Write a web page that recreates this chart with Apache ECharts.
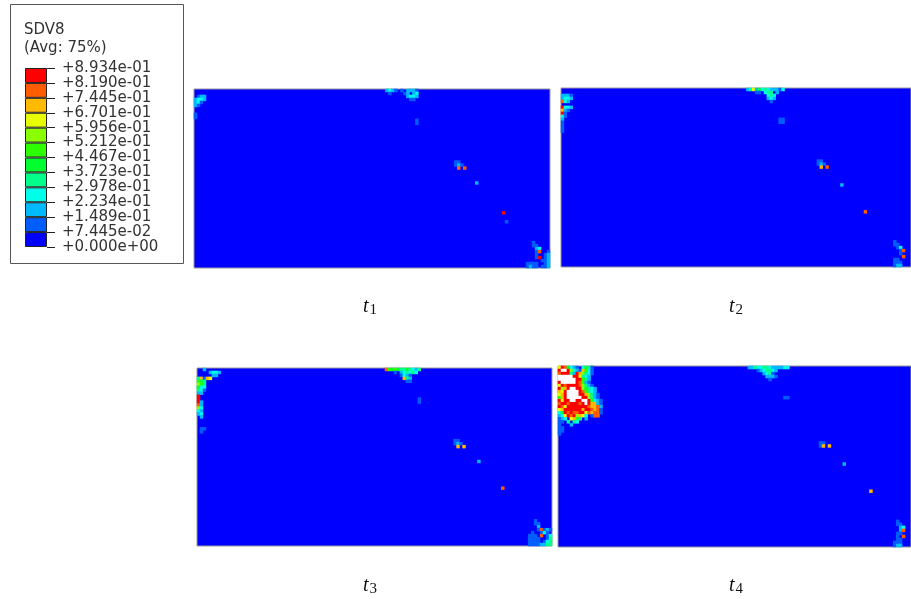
<!DOCTYPE html>
<html><head><meta charset="utf-8">
<style>html,body{margin:0;padding:0;background:#fff}#c{width:911px;height:599px}</style>
<script src="https://cdn.jsdelivr.net/npm/echarts@6/dist/echarts.min.js"></script>
</head><body><div id="c"></div>
<script>
// Legend
const legendTitle = 'SDV8';
const legendSubtitle = '(Avg: 75%)';
const tickLabels = ['+0.000e+00','+7.445e-02','+1.489e-01','+2.234e-01','+2.978e-01','+3.723e-01','+4.467e-01','+5.212e-01','+5.956e-01','+6.701e-01','+7.445e-01','+8.190e-01','+8.934e-01'];
const bandColors = ['#0000ff','#005dff','#00b9ff','#00ffe8','#00ff8b','#00ff2e','#2eff00','#8bff00','#e8ff00','#ffb900','#ff5d00','#ff0000'];
const levelChars = '123456789abc';   // one character per legend band, bottom to top; w = above range (white)
const panelNames = ['1','2','3','4'];

// Contour cells: [first column, first row, row strings]
const t1Cells = [
  [0,2,['.233','3443','342.','32..']],
  [0,8,['2','2']],
  [64,0,['3432','.2..']],
  [69,0,['2.3332','.23.34','..3443','...22.']],
  [74,10,['2','2']],
  [87,24,['22.','232']],
  [88,26,['b.b']],
  [94,31,['3']],
  [103,41,['c']],
  [104,44,['2']],
  [111,51,['..2.....','..22....','...34...','...2b..2','...2..23','...2c.23','.....223','2222..23','2322.223']]
];
const t2Cells = [
  [0,2,['3332','3443','b43.','.','c443','a32.','c2..','42..','3...','2...','2...','2...','2...']],
  [63,0,['3593645433324','...22.455.3']],
  [70,2,['454','343','.2']],
  [74,10,['22','22']],
  [87,24,['22.','232']],
  [88,26,['a.b']],
  [95,32,['3']],
  [103,41,['b']],
  [113,51,['2...','22..','.24.','..2b','..2.','...b','22..','222.','233.']]
];
const t3Cells = [
  [2,0,['3']],
  [4,1,['3443','.33.']],
  [0,3,['5a2a9','765','875','644','542','33.','c..','c..','c3.','b3.','84.','43','34','.3']],
  [1,20,['22','2']],
  [63,0,['b76765565435','...2.345454','.....2432','......a53','.......22']],
  [74,10,['2','2']],
  [86,24,['22.','232']],
  [87,26,['a.a']],
  [94,31,['3']],
  [102,40,['b']],
  [111,51,['..2.....','..22....','...3....','...2b232','.2..242.','222.b.24','2222..25','2222.245','22223355']]
];
const t4Cells = [
  [0,0,['9cb6432.4652','cwwc8432a742','bccc53ca8542','wwwwwcc9543','wwwwwwcc753','cwwwwwcb732','9cbccccb8532','c8acwwcc86543','a9cwwwwcb7543','9acwwwwcca8532','7acwwwwwcc8532','c9ccwwccwwc7432','bccbcccbcwcaa32','cb9cccccccbaab3','9accccccaccbab2','46cbcbbcc9babb2','349cbc8a94.2bb','234.9a75.3','22.5.54','2...3','22','22','2']],
  [64,0,['33544554333344','...2345543','.....3452','......3332','.......2']],
  [76,10,['22']],
  [88,25,['22.','2a.a']],
  [96,32,['3']],
  [105,41,['a']],
  [113,51,['.2..','.22.','..34','..3b','.22.','.2.b','.22.','222.','233.']]
];
const panelCells = [t1Cells, t2Cells, t3Cells, t4Cells];

const panelBoxes = [
  {left:194,top:89,width:356,height:179},
  {left:561,top:88,width:357,height:179},
  {left:197,top:368,width:355,height:178},
  {left:558,top:366,width:357,height:181}
];
const captionPos = [[363,295],[729,295],[363,574],[729,574]];
const colCats = Array.from({length:119},(_,i)=>i);
const rowCats = Array.from({length:60},(_,i)=>i);
const WHITE = 12;

function cellsToData(cells){
  const out=[];
  cells.forEach(([c0,r0,rows])=>rows.forEach((s,r)=>[...s].forEach((ch,c)=>{
    if(ch==='.')return;
    const lvl = ch==='w'?WHITE:levelChars.indexOf(ch);
    if(lvl>0) out.push([c0+c,r0+r,lvl]);
  })));
  return out;
}

const grids=[],xAxes=[],yAxes=[],series=[],titles=[];
panelBoxes.forEach((b,i)=>{
  grids.push({...b,show:true,backgroundColor:'#0000ff',borderColor:'#999',borderWidth:1,containLabel:false});
  xAxes.push({gridIndex:i,type:'category',data:colCats,show:false});
  yAxes.push({gridIndex:i,type:'category',data:rowCats,inverse:true,show:false});
  series.push({type:'heatmap',xAxisIndex:i,yAxisIndex:i,data:cellsToData(panelCells[i]),progressive:0,animation:false,emphasis:{disabled:true}});
  titles.push({left:captionPos[i][0],top:captionPos[i][1],padding:0,
    text:'{t|t}{s|'+panelNames[i]+'}',
    textStyle:{rich:{t:{fontFamily:'Liberation Serif',fontStyle:'italic',fontWeight:'normal',fontSize:20,color:'#111'},
                     s:{fontFamily:'Liberation Serif',fontWeight:'normal',fontSize:15,color:'#111',verticalAlign:'bottom',padding:[8,0,0,1]}}}});
});

// legend colour bar
const li=panelBoxes.length;
grids.push({left:25,top:68,width:22,height:179,show:false});
xAxes.push({gridIndex:li,type:'category',data:['bar'],show:false});
yAxes.push({gridIndex:li,type:'value',min:0,max:12,interval:1,position:'right',
  axisLine:{show:false},splitLine:{show:false},
  axisTick:{show:true,length:8,lineStyle:{color:'#222',width:1}},
  axisLabel:{margin:15,showMinLabel:true,showMaxLabel:true,fontFamily:'DejaVu Sans',fontSize:15,color:'#333',formatter:v=>tickLabels[Math.round(v)]}});
bandColors.forEach(col=>series.push({type:'bar',stack:'legend',xAxisIndex:li,yAxisIndex:li,barWidth:'100%',data:[1],
  animation:false,silent:true,itemStyle:{color:col,borderColor:'#222',borderWidth:1}}));

titles.push({left:24,top:23,padding:0,text:legendTitle,textStyle:{fontFamily:'DejaVu Sans',fontSize:15,fontWeight:'normal',color:'#333'}});
titles.push({left:24,top:41,padding:0,text:legendSubtitle,textStyle:{fontFamily:'DejaVu Sans',fontSize:15,fontWeight:'normal',color:'#333'}});

// Heatmap value = band index; value 12 is a white cell, above the legend's range.
const pieces = bandColors.map((c,i)=>({value:i,color:c})).filter(p=>p.value>0);
pieces.push({value:WHITE,color:'#ffffff'});

const chart=echarts.init(document.getElementById('c'),null,{renderer:'canvas'});
chart.setOption({
  animation:false,backgroundColor:'#fff',
  title:titles,grid:grids,xAxis:xAxes,yAxis:yAxes,series,
  visualMap:{show:false,type:'piecewise',dimension:2,seriesIndex:[0,1,2,3],pieces,outOfRange:{color:'#0000ff'}},
  graphic:[{type:'rect',z:-1,shape:{x:10.5,y:4.5,width:173,height:259},style:{fill:'#fff',stroke:'#555',lineWidth:1}}]
});
</script></body></html>
